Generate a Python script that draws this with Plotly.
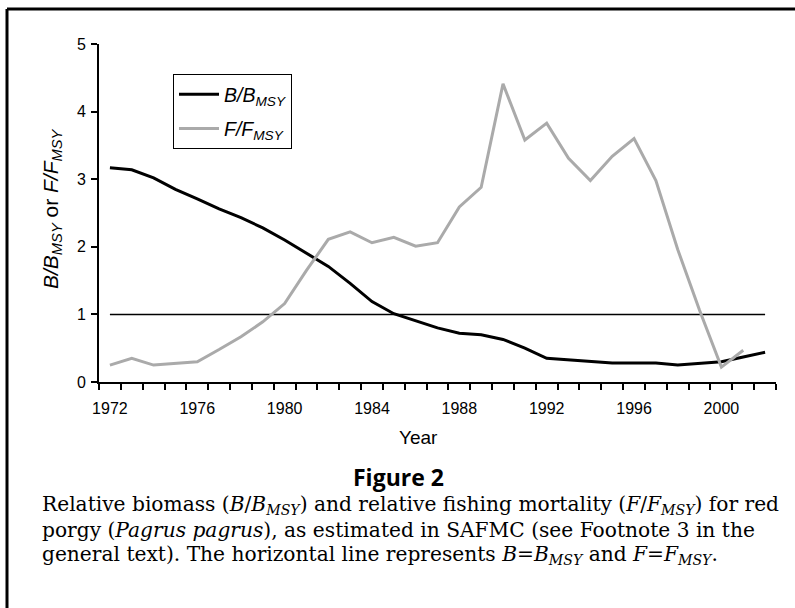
import plotly.graph_objects as go

years = list(range(1972, 2003))
b_bmsy = [3.17, 3.14, 3.02, 2.85, 2.71, 2.56, 2.43, 2.28, 2.10, 1.91, 1.71, 1.46, 1.19, 1.01,
          0.90, 0.80, 0.72, 0.70, 0.63, 0.50, 0.35, 0.33, 0.30, 0.28, 0.28, 0.28, 0.25, 0.27,
          0.30, 0.37, 0.44]
f_years = list(range(1972, 2002))
f_fmsy = [0.25, 0.35, 0.25, 0.27, 0.30, 0.48, 0.67, 0.89, 1.16, 1.65, 2.11, 2.22, 2.06, 2.14,
          2.01, 2.06, 2.59, 2.88, 4.41, 3.58, 3.83, 3.31, 2.98, 3.34, 3.60, 2.98, 1.96, 1.06,
          0.22, 0.47]
ref_level = 1
xtick_years = [1972, 1976, 1980, 1984, 1988, 1992, 1996, 2000]
ytick_vals = [0, 1, 2, 3, 4, 5]

# plot area in pixels
L, R, T, B = 99, 776, 44, 382
W, H = 795, 608
def px_x(p):
    return (p - L) / (R - L)
def px_y(p):
    return (B - p) / (B - T)

SANS = "Liberation Sans"
SERIF = "DejaVu Serif"

fig = go.Figure()
fig.add_trace(go.Scatter(x=years, y=[ref_level] * len(years), mode="lines",
                         line=dict(color="black", width=1.5), showlegend=False, hoverinfo="skip"))
fig.add_trace(go.Scatter(x=years, y=b_bmsy, mode="lines", name="<i>B/B<sub>MSY</sub></i>",
                         line=dict(color="black", width=3), legendgroup="b"))
fig.add_trace(go.Scatter(x=f_years, y=f_fmsy, mode="lines", name="<i>F/F<sub>MSY</sub></i>",
                         line=dict(color="#aaaaaa", width=3), legendgroup="f"))

boundaries = [y - 0.5 for y in years] + [years[-1] + 0.5]

fig.update_layout(
    width=W, height=H,
    margin=dict(l=L, r=W - R, t=T, b=H - B),
    paper_bgcolor="white", plot_bgcolor="white",
    font=dict(family=SANS, size=15, color="black"),
    showlegend=True,
    legend=dict(x=px_x(173), y=px_y(74), xanchor="left", yanchor="top",
                bordercolor="black", borderwidth=1, bgcolor="white",
                font=dict(family=SANS, size=19.5), tracegroupgap=6, itemwidth=40),
    xaxis=dict(range=[boundaries[0], boundaries[-1]], tickmode="array", tickvals=xtick_years,
               ticks="outside", ticklen=11, tickcolor="rgba(0,0,0,0)", tickwidth=1,
               showgrid=False, zeroline=False, showline=True, linecolor="black",
               linewidth=2, tickfont=dict(family=SANS, size=16),
               minor=dict(tickmode="array", tickvals=boundaries, ticks="outside", ticklen=6,
                          tickwidth=1.5, tickcolor="black", showgrid=False)),
    yaxis=dict(range=[0, 5], tickmode="array", tickvals=ytick_vals, ticks="outside", ticklen=6,
               tickwidth=1.5, tickcolor="black", showgrid=False, zeroline=False, showline=True,
               linecolor="black", linewidth=2, tickfont=dict(family=SANS, size=16),
               ticklabelstandoff=2),
)

ann = []
ann.append(dict(text="<i>B/B<sub>MSY</sub></i> or <i>F/F<sub>MSY</sub></i>", xref="paper", yref="paper",
                x=px_x(52), y=px_y(209), textangle=-90, showarrow=False,
                font=dict(family=SANS, size=21), xanchor="center", yanchor="middle"))
ann.append(dict(text="Year", xref="paper", yref="paper", x=px_x(418), y=px_y(437), showarrow=False,
                font=dict(family=SANS, size=19), xanchor="center", yanchor="middle"))
ann.append(dict(text="<b>Figure 2</b>", xref="paper", yref="paper", x=px_x(398), y=px_y(477),
                showarrow=False, font=dict(family="Open Sans", size=23), xanchor="center",
                yanchor="middle"))
cap_lines = [
    "Relative biomass (<i>B</i>/<i>B<sub>MSY</sub></i>) and relative fishing mortality (<i>F</i>/<i>F<sub>MSY</sub></i>) for red",
    "porgy (<i>Pagrus pagrus</i>), as estimated in SAFMC (see Footnote 3 in the",
    "general text). The horizontal line represents <i>B</i>=<i>B<sub>MSY</sub></i> and <i>F</i>=<i>F<sub>MSY</sub></i>.",
]
for i, (line, yy) in enumerate(zip(cap_lines, [505, 530, 555])):
    ann.append(dict(text=line, xref="paper", yref="paper", x=px_x(40), y=px_y(yy), showarrow=False,
                    font=dict(family=SERIF, size=20.2), xanchor="left", yanchor="middle", align="left"))
fig.update_layout(annotations=ann)

fig.update_layout(shapes=[
    dict(type="line", xref="paper", yref="paper", x0=px_x(7), x1=px_x(800), y0=px_y(9), y1=px_y(9),
         line=dict(color="black", width=3)),
    dict(type="line", xref="paper", yref="paper", x0=px_x(7), x1=px_x(7), y0=px_y(9), y1=px_y(615),
         line=dict(color="black", width=3)),
])

fig.write_html("out.html", config={"displayModeBar": False},
               post_script="document.body.style.margin='0';document.body.style.padding='0';")
